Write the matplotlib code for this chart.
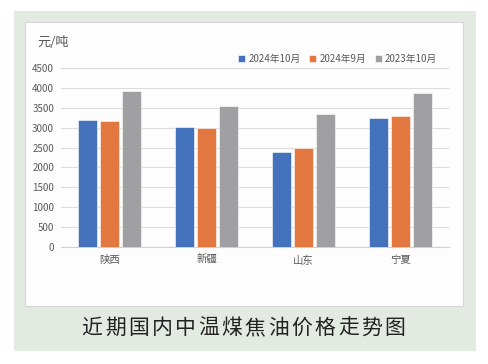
import numpy as np
import matplotlib
matplotlib.use('Agg')
from matplotlib import pyplot as plt
from matplotlib.patches import Rectangle

plt.rcParams['font.family'] = ['Noto Sans CJK SC', 'DejaVu Sans']

regions = ['陕西', '新疆', '山东', '宁夏']
series_names = ['2024年10月', '2024年9月', '2023年10月']
oct_2024 = [3200, 3010, 2400, 3240]
sep_2024 = [3180, 3000, 2490, 3290]
oct_2023 = [3930, 3550, 3340, 3860]
yticks = [0, 500, 1000, 1500, 2000, 2500, 3000, 3500, 4000, 4500]
unit = '元/吨'
caption = '近期国内中温煤焦油价格走势图'

colors = ['#4371BC', '#E2783F', '#A0A0A2']
W, H = 489, 364

fig = plt.figure(figsize=(W / 100, H / 100), dpi=100)
fig.patch.set_facecolor('white')

# green panel and white chart box
fig.patches.append(Rectangle((14 / W, 1 - 351 / H), 462 / W, 340 / H,
                             transform=fig.transFigure, facecolor='#E3EAE2',
                             edgecolor='none', zorder=-2))
fig.patches.append(Rectangle((25 / W, 1 - 306 / H), 438 / W, 284 / H,
                             transform=fig.transFigure, facecolor='#FDFDFD',
                             edgecolor='#D6D6D6', linewidth=0.8, zorder=-1))

ax = fig.add_axes([61 / W, 1 - 247 / H, 388 / W, 179 / H])
ax.set_facecolor('none')

x = np.arange(len(regions))
w = 0.2
step = 0.224
for i, (vals, name) in enumerate(zip([oct_2024, sep_2024, oct_2023], series_names)):
    ax.bar(x + (i - 1) * step, vals, w, color=colors[i], label=name,
           edgecolor='white', linewidth=0.4, zorder=3)

ax.set_xlim(-0.5, len(regions) - 0.5)
ax.set_ylim(0, 4500)
ax.set_yticks(yticks)
ax.set_yticklabels([str(v) for v in yticks], fontsize=7, color='#595959')
ax.set_xticks(x)
ax.set_xticklabels(regions, fontsize=7.5, color='#595959')
ax.tick_params(length=0, pad=5)
ax.tick_params(axis='x', pad=6)
ax.yaxis.grid(True, color='#DCDCDC', linewidth=0.8, zorder=0)
for s in ['top', 'right', 'left']:
    ax.spines[s].set_visible(False)
ax.spines['bottom'].set_color('#D0D0D0')
ax.spines['bottom'].set_linewidth(0.8)

leg = ax.legend(loc='center right', bbox_to_anchor=(0.98, 1.05), ncol=3,
                frameon=False, fontsize=7, handlelength=0.7, handleheight=0.7,
                handletextpad=0.35, columnspacing=0.9, borderaxespad=0)
for t in leg.get_texts():
    t.set_color('#595959')

fig.text(37 / W, 1 - 43 / H, unit, fontsize=9.5, color='#595959', va='center', ha='left')

# caption, drawn with wide letter spacing
cx0, cx1 = 92, 395
for k, ch in enumerate(caption):
    px = cx0 + (cx1 - cx0) * k / (len(caption) - 1)
    fig.text(px / W, 1 - 328 / H, ch, fontsize=15, color='#222222',
             ha='center', va='center')

fig.savefig('out.png', dpi=100)
